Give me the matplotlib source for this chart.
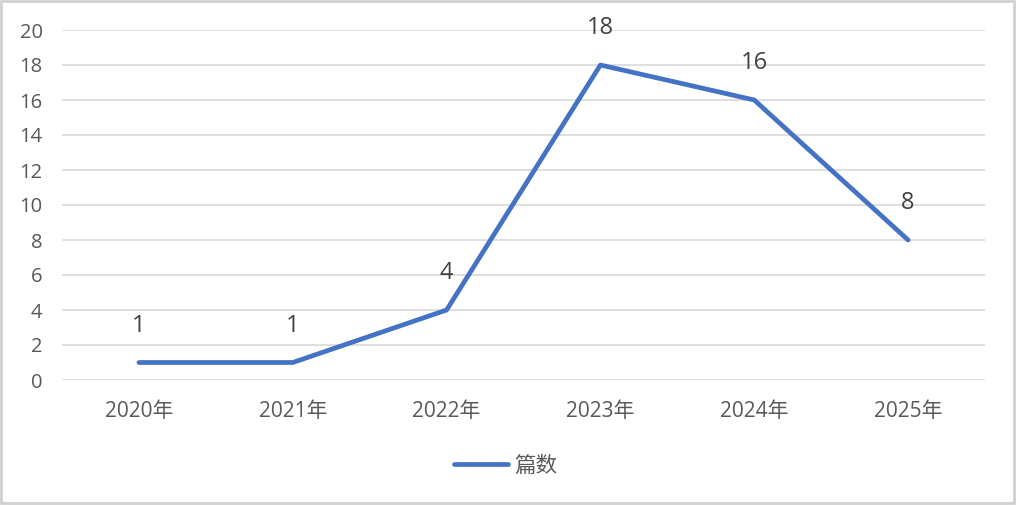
import matplotlib
matplotlib.use("Agg")
import matplotlib.pyplot as plt
from matplotlib.patches import Rectangle

categories = ["2020年", "2021年", "2022年", "2023年", "2024年", "2025年"]
values = [1, 1, 4, 18, 16, 8]
yticks = [0, 2, 4, 6, 8, 10, 12, 14, 16, 18, 20]
series_name = "篇数"

plt.rcParams['font.family'] = ['Open Sans', 'Noto Sans CJK SC', 'DejaVu Sans']

fig = plt.figure(figsize=(10.16, 5.05), dpi=100)
ax = fig.add_axes([62/1016, (505-380)/505, (985-62)/1016, 350/505])

x = list(range(len(categories)))
line, = ax.plot(x, values, color="#4472C4", lw=3.4, solid_capstyle="round",
                solid_joinstyle="round", label=series_name, zorder=3)

for xi, v in zip(x, values):
    ax.annotate(str(v), (xi, v), xytext=(0, 26.5), textcoords="offset points",
                ha="center", va="center", fontsize=17, color="#404040")

ax.set_xlim(-0.5, len(categories) - 0.5)
ax.set_ylim(0, 20)
ax.set_yticks(yticks)
ax.set_yticklabels([str(t) for t in yticks], fontsize=14.5, color="#595959")
ax.set_xticks(x)
ax.set_xticklabels(categories, fontsize=15, color="#595959")
ax.tick_params(length=0)
ax.tick_params(axis="y", pad=14)
ax.tick_params(axis="x", pad=15)
ax.grid(axis="y", color="#D9D9D9", lw=1.2)
ax.set_axisbelow(True)
for s in ax.spines.values():
    s.set_visible(False)

leg = fig.legend(handles=[line], loc="center", bbox_to_anchor=(506/1016, 1-466/505),
                 frameon=False, fontsize=15.5, handlelength=2.5, handletextpad=0.3,
                 labelcolor="#595959", borderpad=0, borderaxespad=0)

fig.patches.append(Rectangle((0.001, 0.004), 0.997, 0.994, transform=fig.transFigure,
                             fill=False, edgecolor="#D0D0D0", lw=2))

fig.savefig("out.png", dpi=100)
